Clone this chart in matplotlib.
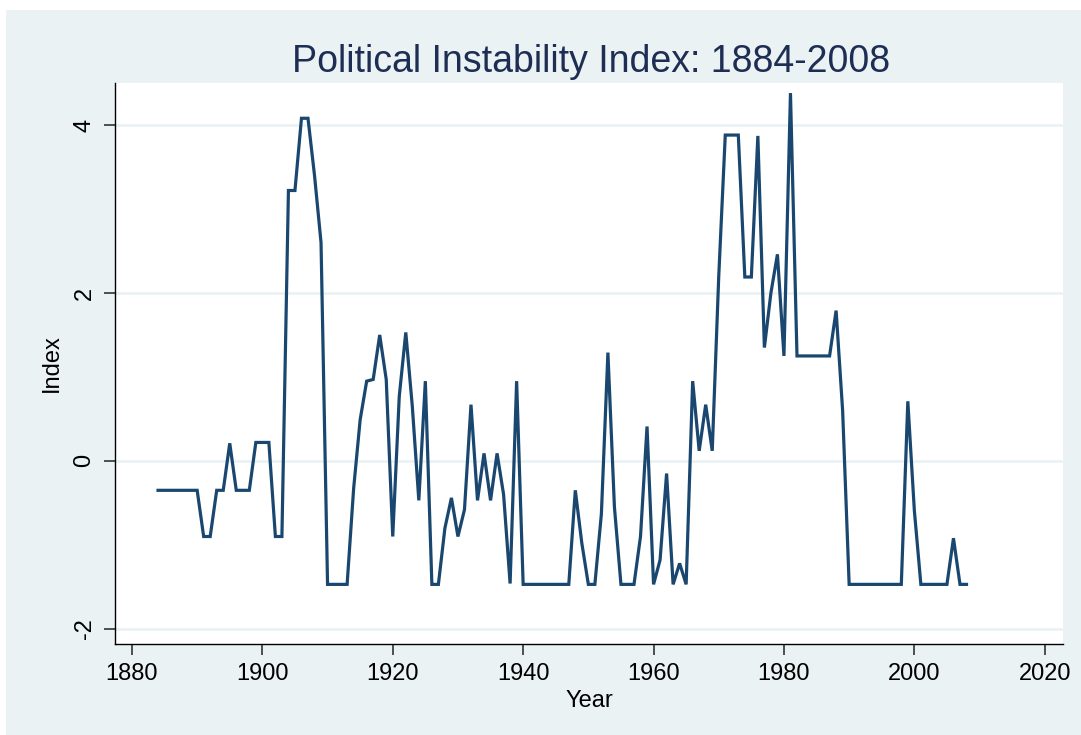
import matplotlib
matplotlib.use("Agg")
import matplotlib.pyplot as plt
from matplotlib.patches import Rectangle

years = list(range(1884, 2009))
index_values = (
    [-0.35] * 7 +                      # 1884-1890
    [-0.90, -0.90, -0.35, -0.35, 0.21, -0.35, -0.35, -0.35,   # 1891-1898
     0.22, 0.22, 0.22, -0.90, -0.90,                          # 1899-1903
     3.22, 3.22, 4.08, 4.08, 3.40, 2.60,                      # 1904-1909
     -1.47, -1.47, -1.47, -1.47,                              # 1910-1913
     -0.33, 0.49, 0.95, 0.97, 1.50, 0.97, -0.90,              # 1914-1920
     0.77, 1.53, 0.65, -0.47, 0.95, -1.47, -1.47,             # 1921-1927
     -0.80, -0.44, -0.90, -0.58, 0.67, -0.47, 0.09,           # 1928-1934
     -0.47, 0.09, -0.40, -1.46, 0.95] +                       # 1935-1939
    [-1.47] * 8 +                      # 1940-1947
    [-0.35, -0.98, -1.47, -1.47, -0.63, 1.29, -0.55,          # 1948-1954
     -1.47, -1.47, -1.47, -0.90, 0.41, -1.47, -1.18,          # 1955-1961
     -0.15, -1.47, -1.22, -1.47, 0.95, 0.12, 0.67,            # 1962-1968
     0.12, 2.20, 3.88, 3.88, 3.88, 2.19, 2.19,                # 1969-1975
     3.87, 1.35, 2.00, 2.46, 1.25, 4.38] +                    # 1976-1981
    [1.25] * 6 +                       # 1982-1987
    [1.79, 0.60] +                     # 1988-1989
    [-1.47] * 9 +                      # 1990-1998
    [0.71, -0.59] +                    # 1999-2000
    [-1.47] * 5 +                      # 2001-2005
    [-0.92, -1.47, -1.47]              # 2006-2008
)

x_ticks = [1880, 1900, 1920, 1940, 1960, 1980, 2000, 2020]
y_ticks = [-2, 0, 2, 4]
title = "Political Instability Index: 1884-2008"

W, H = 1081, 735
fig = plt.figure(figsize=(W / 100, H / 100), dpi=100)
fig.patch.set_facecolor("white")
bg = "#EAF2F3"
fig.patches.append(Rectangle((6 / W, 0), 1 - 6 / W, 1 - 10 / H,
                             transform=fig.transFigure, facecolor=bg,
                             edgecolor="none", zorder=-10))

L, R, T, B = 115, 1063, 83, 644
ax = fig.add_axes([L / W, 1 - B / H, (R - L) / W, (B - T) / H])
ax.set_facecolor("white")

ax.plot(years, index_values, color="#1A476F", lw=2.3, solid_joinstyle="miter",
        zorder=3)

ax.set_xlim(1877.4, 2022.8)
ax.set_ylim(-2.18, 4.5)
ax.set_xticks(x_ticks)
ax.set_yticks(y_ticks)
ax.set_yticklabels([str(v) for v in y_ticks], rotation=90, va="center")

for s in ["top", "right"]:
    ax.spines[s].set_visible(False)
for s in ["left", "bottom"]:
    ax.spines[s].set_color("black")
    ax.spines[s].set_linewidth(1.0)

ax.grid(axis="y", color=bg, lw=2.0, zorder=0)
ax.set_axisbelow(True)
ax.tick_params(axis="both", direction="out", length=8, width=1.2,
               color="#333333", labelsize=17, pad=6,
               labelfontfamily="Liberation Sans")

ax.set_xlabel("Year", fontsize=17, family="Liberation Sans", labelpad=3)
ax.set_ylabel("Index", fontsize=17, family="Liberation Sans", labelpad=8)

fig.text(591 / W, 1 - 72 / H, title, ha="center", va="baseline",
         fontsize=27, family="Liberation Sans", color="#1E2D53")

fig.savefig("out.png", dpi=100, facecolor=fig.get_facecolor())
